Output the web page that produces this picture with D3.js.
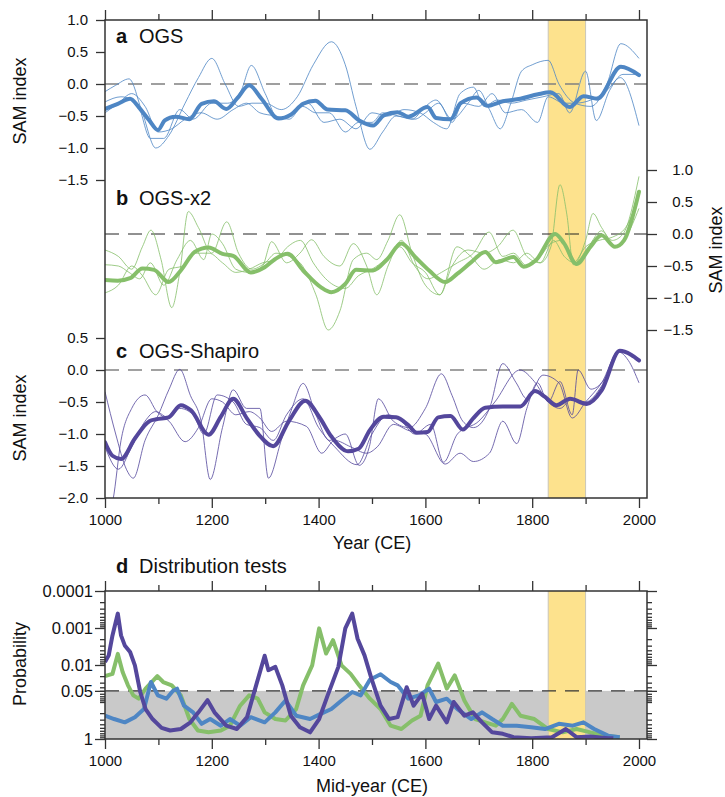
<!doctype html>
<html>

<head>
  <meta charset="utf-8">
  <title>SAM reconstructions</title>
  <style>
    body { margin: 0; background: #fff; }
    svg text { font-family: "Liberation Sans", Arial, sans-serif; fill: #111; }
  </style>
</head>

<body>
  <svg width="725" height="797"></svg>

  <script src="https://d3js.org/d3.v7.min.js"></script>
  <script>
    // ---- data: [year, SAM index] ----
    const ogsMean = [[1000,-0.39],[1024,-0.31],[1047,-0.23],[1063,-0.36],[1083,-0.57],[1099,-0.72],[1112,-0.57],[1132,-0.51],[1158,-0.55],[1181,-0.31],[1204,-0.27],[1227,-0.39],[1247,-0.23],[1270,-0.02],[1293,-0.23],[1325,-0.54],[1348,-0.48],[1371,-0.31],[1394,-0.26],[1417,-0.40],[1450,-0.41],[1476,-0.57],[1502,-0.65],[1522,-0.49],[1548,-0.44],[1568,-0.51],[1604,-0.36],[1620,-0.53],[1647,-0.55],[1666,-0.30],[1696,-0.21],[1716,-0.34],[1745,-0.27],[1778,-0.23],[1811,-0.16],[1834,-0.13],[1870,-0.36],[1896,-0.19],[1922,-0.23],[1966,0.27],[2000,0.14]];
    const ogsRuns = [
      [[1000,-0.12],[1020,-0.02],[1045,0.08],[1070,-0.45],[1095,-1.0],[1120,-0.8],[1150,-0.3],[1175,0.1],[1200,0.4],[1225,0.0],[1250,-0.35],[1275,-0.3],[1300,-0.3],[1330,-0.4],[1360,-0.2],[1390,0.3],[1424,0.66],[1450,0.3],[1470,-0.35],[1496,-1.02],[1520,-0.75],[1545,-0.5],[1575,-0.55],[1600,-0.35],[1620,-0.25],[1650,-0.55],[1680,-0.3],[1700,-0.1],[1720,-0.4],[1740,-0.7],[1760,-0.3],[1780,0.2],[1800,0.3],[1830,0.37],[1850,0.0],[1880,-0.3],[1910,-0.35],[1940,0.0],[1966,0.63],[2000,0.4]],
      [[1000,-0.28],[1030,-0.2],[1060,-0.3],[1085,-0.85],[1110,-0.85],[1140,-0.4],[1165,-0.55],[1200,-0.3],[1230,-0.3],[1255,-0.1],[1274,0.29],[1300,-0.15],[1325,-0.55],[1350,-0.45],[1380,-0.3],[1410,-0.6],[1440,-0.55],[1470,-0.7],[1500,-0.45],[1530,-0.5],[1560,-0.4],[1590,-0.45],[1615,-0.6],[1640,-0.7],[1665,-0.15],[1690,-0.05],[1710,-0.35],[1735,-0.25],[1760,-0.3],[1790,-0.25],[1820,-0.2],[1850,-0.15],[1870,-0.45],[1900,0.2],[1920,-0.57],[1945,-0.1],[1970,0.15],[2000,0.15]],
      [[1000,-0.45],[1025,-0.3],[1050,-0.15],[1075,-0.35],[1100,-0.75],[1125,-0.7],[1150,-0.55],[1180,-0.45],[1210,-0.55],[1240,-0.4],[1265,-0.3],[1290,-0.45],[1320,-0.5],[1345,-0.55],[1370,-0.35],[1395,-0.45],[1420,-0.45],[1450,-0.75],[1475,-0.6],[1500,-0.6],[1520,-0.45],[1550,-0.5],[1580,-0.55],[1600,-0.45],[1625,-0.3],[1650,-0.6],[1670,-0.3],[1700,-0.35],[1725,-0.15],[1750,-0.45],[1780,-0.4],[1810,-0.6],[1830,-0.2],[1860,-0.3],[1880,-0.3],[1910,-0.25],[1940,-0.1],[1965,0.1],[2000,-0.65]]
    ];

    const x2Mean = [[1000,-0.72],[1024,-0.73],[1047,-0.69],[1070,-0.54],[1092,-0.56],[1119,-0.75],[1142,-0.57],[1168,-0.28],[1194,-0.21],[1220,-0.31],[1240,-0.34],[1273,-0.60],[1299,-0.52],[1319,-0.39],[1342,-0.31],[1371,-0.57],[1404,-0.83],[1424,-0.91],[1450,-0.78],[1470,-0.56],[1502,-0.57],[1529,-0.39],[1555,-0.15],[1581,-0.36],[1607,-0.57],[1637,-0.75],[1660,-0.62],[1686,-0.44],[1712,-0.28],[1732,-0.44],[1765,-0.36],[1784,-0.51],[1807,-0.41],[1843,0.0],[1860,-0.15],[1883,-0.47],[1909,-0.20],[1930,-0.02],[1955,-0.20],[1972,-0.10],[2000,0.66]];
    const x2Runs = [
      [[1000,-0.25],[1025,-0.35],[1050,-0.55],[1070,-0.2],[1086,0.06],[1105,-0.4],[1125,-1.15],[1140,-0.6],[1156,0.35],[1175,0.1],[1200,-0.3],[1228,0.19],[1250,-0.3],[1275,-0.55],[1300,-0.45],[1320,-0.3],[1345,-0.35],[1370,-0.5],[1395,-0.95],[1418,-1.5],[1440,-1.2],[1465,-0.4],[1490,-0.3],[1509,-0.4],[1530,-0.1],[1552,0.3],[1575,-0.3],[1600,-0.8],[1627,-0.95],[1650,-0.5],[1680,-0.25],[1710,-0.3],[1735,-0.2],[1764,0.06],[1790,-0.35],[1815,-0.45],[1835,-0.2],[1852,0.77],[1865,0.3],[1877,-0.48],[1900,-0.1],[1914,0.32],[1930,0.1],[1950,-0.1],[1970,0.0],[2000,0.9]],
      [[1000,-0.48],[1025,-0.5],[1045,-0.6],[1065,-0.7],[1085,-0.45],[1110,-0.8],[1135,-0.4],[1160,-0.1],[1185,-0.4],[1200,0.0],[1220,-0.15],[1245,-0.55],[1270,-0.6],[1295,-0.5],[1312,-0.12],[1340,-0.45],[1365,-0.3],[1387,-0.09],[1410,-0.35],[1440,-0.5],[1465,-0.15],[1490,-0.5],[1509,-0.95],[1530,-0.5],[1555,-0.1],[1580,-0.5],[1605,-0.7],[1630,-0.6],[1660,-0.45],[1690,-0.3],[1719,0.03],[1745,-0.35],[1765,-0.3],[1790,-0.5],[1815,-0.35],[1835,-0.15],[1855,-0.1],[1877,-0.45],[1900,-0.2],[1925,-0.1],[1950,-0.05],[1975,0.1],[2000,0.6]],
      [[1000,-0.92],[1025,-0.8],[1050,-0.5],[1070,-0.65],[1095,-0.95],[1120,-0.55],[1145,-0.5],[1170,-0.3],[1195,-0.3],[1220,-0.45],[1245,-0.6],[1270,-0.55],[1295,-0.45],[1320,-0.4],[1342,-0.2],[1366,-0.1],[1390,-0.45],[1420,-0.75],[1450,-0.85],[1475,-0.65],[1500,-0.55],[1525,-0.4],[1552,-0.2],[1575,-0.45],[1600,-0.6],[1627,-0.95],[1659,-0.2],[1685,-0.35],[1710,-0.55],[1740,-0.4],[1765,-0.45],[1790,-0.3],[1815,-0.45],[1840,-0.1],[1860,-0.35],[1880,-0.45],[1905,-0.2],[1930,0.05],[1955,-0.2],[1975,-0.05],[2000,0.4]]
    ];

    const shapiroMean = [[1000,-1.13],[1014,-1.34],[1030,-1.39],[1056,-1.07],[1083,-0.80],[1096,-0.77],[1119,-0.74],[1142,-0.55],[1161,-0.63],[1194,-1.01],[1217,-0.73],[1240,-0.45],[1266,-0.76],[1289,-1.02],[1315,-1.19],[1345,-0.79],[1375,-0.48],[1401,-0.73],[1424,-1.04],[1455,-1.27],[1475,-1.23],[1496,-0.94],[1522,-0.73],[1545,-0.74],[1568,-0.86],[1584,-0.98],[1604,-0.97],[1624,-0.74],[1647,-0.72],[1670,-0.93],[1689,-0.76],[1712,-0.59],[1745,-0.57],[1778,-0.57],[1805,-0.33],[1824,-0.42],[1845,-0.55],[1871,-0.45],[1902,-0.53],[1930,-0.32],[1964,0.30],[1985,0.24],[2000,0.15]];
    const shapiroRuns = [
      [[1000,-0.34],[1020,-1.0],[1040,-1.55],[1053,-1.69],[1075,-1.1],[1100,-0.7],[1120,-0.3],[1140,0.01],[1160,-0.4],[1180,-0.8],[1197,-1.71],[1220,-0.9],[1240,-0.31],[1265,-0.6],[1290,-0.6],[1306,-1.69],[1330,-1.1],[1350,-0.6],[1371,-0.21],[1395,-0.7],[1420,-1.1],[1450,-1.0],[1476,-1.49],[1495,-1.2],[1512,-0.45],[1540,-0.8],[1570,-0.9],[1600,-0.6],[1630,-0.06],[1650,-0.4],[1670,-0.8],[1690,-0.9],[1720,-0.6],[1745,0.1],[1770,-0.2],[1790,-0.45],[1820,-0.08],[1850,-0.2],[1875,-0.75],[1900,-0.5],[1930,-0.2],[1962,0.28],[1980,0.15],[2000,-0.2]],
      [[1000,-2.4],[1015,-2.03],[1030,-1.1],[1050,-0.6],[1075,-0.39],[1097,-0.65],[1120,-0.8],[1150,-1.12],[1175,-0.9],[1200,-0.45],[1220,-0.5],[1245,-0.7],[1270,-0.65],[1290,-0.75],[1312,-0.96],[1340,-0.8],[1377,-0.88],[1406,-1.3],[1430,-1.1],[1460,-1.2],[1490,-1.3],[1510,-1.2],[1540,-0.85],[1570,-0.95],[1600,-1.0],[1637,-1.47],[1665,-1.3],[1690,-1.43],[1720,-1.3],[1745,-0.8],[1771,-1.15],[1790,-0.6],[1810,-0.2],[1830,-0.5],[1852,-0.18],[1875,-0.7],[1886,0.0],[1910,-0.3],[1935,-0.15],[1962,0.3],[1985,0.25],[2000,0.15]],
      [[1000,-1.2],[1025,-1.55],[1050,-1.2],[1075,-0.8],[1095,-0.65],[1120,-0.75],[1140,-0.6],[1165,-0.7],[1185,-1.0],[1210,-0.39],[1240,-0.5],[1265,-0.85],[1290,-0.9],[1315,-1.1],[1340,-0.7],[1371,-0.45],[1400,-0.9],[1430,-1.2],[1472,-1.48],[1500,-1.0],[1530,-0.7],[1555,-0.8],[1580,-1.0],[1610,-0.85],[1634,-1.44],[1660,-1.0],[1700,-0.8],[1730,-0.5],[1777,0.0],[1804,-0.18],[1830,-0.5],[1852,-0.6],[1875,-0.45],[1900,-0.5],[1930,-0.25],[1962,0.3],[2000,0.15]]
    ];

    // ---- distribution tests: [mid-year, -log10(probability)] ----
    const testOgs = [[1000,0.63],[1017,0.54],[1037,0.45],[1056,0.59],[1073,0.81],[1086,1.54],[1099,1.18],[1115,1.09],[1127,1.3],[1135,1.36],[1148,0.9],[1165,0.72],[1181,0.41],[1197,0.54],[1217,0.36],[1234,0.54],[1253,0.36],[1273,0.59],[1299,0.45],[1319,0.72],[1338,1.04],[1358,0.63],[1384,0.54],[1404,0.68],[1424,0.81],[1443,1.04],[1463,1.27],[1479,1.18],[1496,1.6],[1516,1.75],[1535,1.54],[1548,1.45],[1568,1.09],[1588,1.18],[1607,1.36],[1620,1.0],[1640,1.09],[1660,0.81],[1686,0.54],[1706,0.72],[1725,0.54],[1745,0.36],[1771,0.36],[1798,0.32],[1824,0.27],[1850,0.41],[1876,0.36],[1896,0.45],[1916,0.27],[1942,0.09],[1964,0.05]];
    const testX2 = [[1000,1.7],[1014,1.76],[1024,2.3],[1033,1.81],[1043,1.45],[1053,1.18],[1063,1.09],[1076,1.36],[1098,1.7],[1109,1.54],[1125,1.45],[1142,1.18],[1158,0.54],[1174,0.23],[1194,0.18],[1217,0.23],[1234,0.36],[1253,0.9],[1270,1.18],[1286,1.09],[1299,0.72],[1319,0.54],[1338,0.5],[1358,0.81],[1371,1.45],[1388,1.99],[1401,2.99],[1414,2.31],[1427,2.67],[1443,1.99],[1460,1.76],[1476,1.45],[1496,1.09],[1516,0.81],[1535,0.36],[1555,0.27],[1575,0.5],[1591,0.63],[1604,1.45],[1624,2.04],[1640,1.36],[1655,1.72],[1673,1.04],[1693,0.54],[1712,0.45],[1732,0.36],[1745,0.54],[1762,0.95],[1778,0.63],[1804,0.54],[1830,0.27],[1857,0.18],[1883,0.27],[1909,0.18],[1935,0.09],[1964,0.05]];
    const testShapiro = [[1000,2.08],[1007,2.26],[1014,2.8],[1024,3.39],[1030,2.8],[1037,2.53],[1047,2.35],[1056,1.99],[1066,1.27],[1076,0.81],[1089,0.54],[1106,0.3],[1122,0.23],[1142,0.27],[1160,0.45],[1175,0.72],[1192,1.05],[1205,0.72],[1227,0.36],[1247,0.27],[1266,0.59],[1283,1.45],[1299,2.25],[1306,1.86],[1319,1.95],[1332,1.45],[1348,0.63],[1365,0.32],[1384,0.18],[1401,0.54],[1417,1.18],[1437,1.95],[1450,2.99],[1463,3.39],[1473,2.71],[1486,2.26],[1499,1.63],[1516,0.9],[1532,0.54],[1548,0.59],[1565,1.4],[1578,0.9],[1594,1.22],[1607,0.54],[1620,0.9],[1640,0.45],[1653,1.0],[1673,0.63],[1689,0.72],[1706,0.45],[1725,0.18],[1745,0.14],[1765,0.05],[1798,0.02],[1837,0.05],[1863,0.27],[1883,0.05],[1909,0.07],[1942,0.02],[1952,0.02]];

    const band = [1830, 1900];
    const samTicksA = [1, 0.5, 0, -0.5, -1, -1.5];
    const samTicksC = [0.5, 0, -0.5, -1, -1.5, -2];
    const probTicks = [0.0001, 0.001, 0.01, 0.05, 1];
    const probLabels = ['0.0001', '0.001', '0.01', '0.05', '1'];

    const blue = '#4e86c4', green = '#86bf6a', purple = '#54479c';

    const svg = d3.select('svg');
    const x = d3.scaleLinear().domain([1000, 2015]).range([105, 647]);
    const yA = d3.scaleLinear().domain([-1.5, 1]).range([180, 20]);
    const yB = d3.scaleLinear().domain([-1.5, 1]).range([330, 170]);
    const yC = d3.scaleLinear().domain([-2, 0.5]).range([498, 338]);
    const yD = d3.scaleLog().domain([1e-4, 1]).range([591, 739]);
    const fmt = d => d3.format('.1f')(d).replace('-', '\u2212');

    const defs = svg.append('defs');
    defs.append('clipPath').attr('id', 'clipTop').append('rect')
      .attr('x', 105).attr('y', 20).attr('width', 542).attr('height', 478);
    defs.append('clipPath').attr('id', 'clipD').append('rect')
      .attr('x', 105).attr('y', 591).attr('width', 542).attr('height', 148);

    const gTop = svg.append('g').attr('clip-path', 'url(#clipTop)');
    const gD = svg.append('g').attr('clip-path', 'url(#clipD)');

    // grey "not significant" area in d
    gD.append('rect')
      .attr('x', 105).attr('width', 542)
      .attr('y', yD(0.05)).attr('height', yD(1) - yD(0.05))
      .attr('fill', '#c9c9c9');

    // yellow band
    function drawBand(g, y0, y1) {
      g.append('rect')
        .attr('x', x(band[0])).attr('width', x(band[1]) - x(band[0]))
        .attr('y', y0).attr('height', y1 - y0)
        .attr('fill', '#fde28d');
      band.forEach(b => g.append('line')
        .attr('x1', x(b)).attr('x2', x(b)).attr('y1', y0).attr('y2', y1)
        .attr('stroke', '#c9c6b8').attr('stroke-width', 1));
    }
    drawBand(gTop, 20, 498);
    drawBand(gD, 591, 739);

    // dashed reference lines
    function dashed(g, y, color, w) {
      g.append('line')
        .attr('x1', 105).attr('x2', 647).attr('y1', y).attr('y2', y)
        .attr('stroke', color).attr('stroke-width', w)
        .attr('stroke-dasharray', '14,9');
    }
    dashed(gTop, yA(0), '#808080', 1.5);
    dashed(gTop, yB(0), '#222', 1);
    dashed(gTop, yC(0), '#444', 1.2);
    dashed(gD, yD(0.05), '#333', 1.2);

    // SAM curves
    function panel(y, runs, mean, color) {
      const line = d3.line().x(d => x(d[0])).y(d => y(d[1])).curve(d3.curveMonotoneX);
      runs.forEach(r => gTop.append('path').datum(r)
        .attr('fill', 'none').attr('stroke', color).attr('stroke-width', 1)
        .attr('stroke-opacity', 0.8).attr('d', line));
      gTop.append('path').datum(mean)
        .attr('fill', 'none').attr('stroke', color).attr('stroke-width', 4)
        .attr('stroke-linejoin', 'round').attr('stroke-linecap', 'round')
        .attr('d', line);
    }
    panel(yA, ogsRuns, ogsMean, blue);
    panel(yB, x2Runs, x2Mean, green);
    panel(yC, shapiroRuns, shapiroMean, purple);

    // probability curves
    const pLine = d3.line().x(d => x(d[0])).y(d => yD(Math.pow(10, -d[1])));
    [[testX2, green], [testOgs, blue], [testShapiro, purple]].forEach(([s, c]) => {
      gD.append('path').datum(s)
        .attr('fill', 'none').attr('stroke', c).attr('stroke-width', 4)
        .attr('stroke-linejoin', 'round').attr('d', pLine);
    });

    // frames
    [[20, 498], [591, 739]].forEach(([y0, y1]) => {
      svg.append('rect')
        .attr('x', 105).attr('y', y0).attr('width', 542).attr('height', y1 - y0)
        .attr('fill', 'none').attr('stroke', '#333').attr('stroke-width', 1.5);
    });

    // axes
    function style(g, size) {
      g.select('.domain').remove();
      g.selectAll('.tick line').attr('stroke', '#333').attr('stroke-width', 1.3);
      g.selectAll('.tick text').attr('font-size', size || 15).attr('fill', '#111');
      return g;
    }
    const major = d3.range(1000, 2001, 200), minor = d3.range(1100, 2000, 200);

    [20, 591].forEach(yy => {
      style(svg.append('g').attr('transform', `translate(0,${yy})`)
        .call(d3.axisTop(x).tickValues(major).tickSize(10).tickFormat('')));
      style(svg.append('g').attr('transform', `translate(0,${yy})`)
        .call(d3.axisTop(x).tickValues(minor).tickSize(6).tickFormat('')));
    });
    [498, 739].forEach(yy => {
      style(svg.append('g').attr('transform', `translate(0,${yy})`)
        .call(d3.axisBottom(x).tickValues(major).tickSize(10).tickPadding(6).tickFormat(d3.format('d'))));
      style(svg.append('g').attr('transform', `translate(0,${yy})`)
        .call(d3.axisBottom(x).tickValues(minor).tickSize(6).tickFormat('')));
    });

    style(svg.append('g').attr('transform', 'translate(105,0)')
      .call(d3.axisLeft(yA).tickValues(samTicksA).tickSize(9).tickPadding(8).tickFormat(fmt)));
    style(svg.append('g').attr('transform', 'translate(105,0)')
      .call(d3.axisLeft(yC).tickValues(samTicksC).tickSize(9).tickPadding(8).tickFormat(fmt)));
    style(svg.append('g').attr('transform', 'translate(647,0)')
      .call(d3.axisRight(yB).tickValues(samTicksA).tickSize(10).tickFormat(fmt)))
      .selectAll('.tick text').attr('text-anchor', 'end').attr('x', 46);

    // log ticks for d
    const probMinor = [];
    [-4, -3, -2, -1].forEach(e => d3.range(2, 10).forEach(k => probMinor.push(k * Math.pow(10, e))));
    probMinor.push(0.1);
    [[105, d3.axisLeft], [647, d3.axisRight]].forEach(([xx, ax]) => {
      style(svg.append('g').attr('transform', `translate(${xx},0)`)
        .call(ax(yD).tickValues(probTicks).tickSize(10).tickPadding(2)
          .tickFormat((d, i) => xx === 105 ? probLabels[i] : '')), 16.5);
      style(svg.append('g').attr('transform', `translate(${xx},0)`)
        .call(ax(yD).tickValues(probMinor).tickSize(5).tickFormat('')));
    });

    // titles
    function title(y, letter, name) {
      const t = svg.append('text').attr('x', 116).attr('y', y).attr('font-size', 20);
      t.append('tspan').attr('font-weight', 'bold').text(letter);
      t.append('tspan').attr('x', 139).text(name);
    }
    title(43, 'a', 'OGS');
    title(205, 'b', 'OGS-x2');
    title(358, 'c', 'OGS-Shapiro');
    title(573, 'd', 'Distribution tests');

    function yLabel(cx, cy, txt) {
      svg.append('text')
        .attr('transform', `translate(${cx},${cy}) rotate(-90)`)
        .attr('text-anchor', 'middle').attr('font-size', 18).text(txt);
    }
    yLabel(26, 101, 'SAM index');
    yLabel(722, 250, 'SAM index');
    yLabel(26, 418, 'SAM index');
    yLabel(26, 664, 'Probability');

    svg.append('text').attr('x', 372).attr('y', 549)
      .attr('text-anchor', 'middle').attr('font-size', 18).text('Year (CE)');
    svg.append('text').attr('x', 372).attr('y', 792)
      .attr('text-anchor', 'middle').attr('font-size', 18).text('Mid-year (CE)');
  </script>
</body>

</html>
